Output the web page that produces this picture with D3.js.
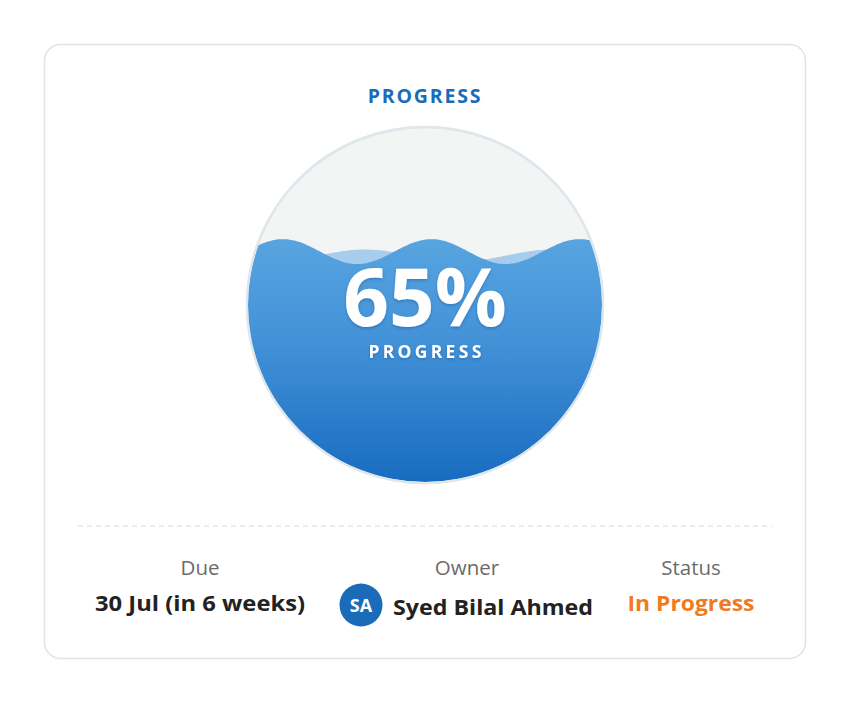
<!DOCTYPE html>
<html>
<head>
<meta charset="utf-8">
<script src="https://cdn.jsdelivr.net/npm/d3@7/dist/d3.min.js"></script>
<style>
  html, body { margin: 0; padding: 0; background: #ffffff; }
  svg { display: block; }
</style>
</head>
<body>
<svg id="chart" width="850" height="703"></svg>
<script>
// ---- data ----
const title = "PROGRESS";
const progressValue = 65;          // percent
const progressLabel = "PROGRESS";
const fieldLabels = ["Due", "Owner", "Status"];
const fieldValues = ["30 Jul (in 6 weeks)", "Syed Bilal Ahmed", "In Progress"];
const ownerInitials = "SA";
const waveCount = [2.4, 1.9];      // waves across circle (front, back)
const waveAmplitude = [0.035, 0.017]; // fraction of diameter
const wavePhase = [0.243, 0.63];   // offset fraction of wavelength

const FONT = "'Open Sans', 'Noto Sans', sans-serif";
const svg = d3.select("#chart");

// card
svg.append("rect")
  .attr("x", 44.5).attr("y", 44.5).attr("width", 761).attr("height", 614)
  .attr("rx", 16).attr("fill", "#fff").attr("stroke", "#e2e2e2").attr("stroke-width", 1.5);

// title
svg.append("text")
  .attr("x", 425).attr("y", 103).attr("text-anchor", "middle")
  .attr("font-family", FONT).attr("font-weight", 700).attr("font-size", 19.5)
  .attr("letter-spacing", 1.8).attr("fill", "#1a6bb8").text(title);

// gauge
const cx = 425, cy = 305, R = 178;
const defs = svg.append("defs");
const grad = defs.append("linearGradient").attr("id", "fillGrad")
  .attr("gradientUnits", "userSpaceOnUse")
  .attr("x1", 0).attr("y1", cy - R).attr("x2", 0).attr("y2", cy + R);
grad.append("stop").attr("offset", "0.3").attr("stop-color", "#58a5e0");
grad.append("stop").attr("offset", "0.6").attr("stop-color", "#4392d8");
grad.append("stop").attr("offset", "1").attr("stop-color", "#186bbf");

defs.append("clipPath").attr("id", "circClip")
  .append("circle").attr("cx", cx).attr("cy", cy).attr("r", R - 1);

const shadow = defs.append("filter").attr("id", "txtShadow")
  .attr("x", "-20%").attr("y", "-20%").attr("width", "140%").attr("height", "140%");
shadow.append("feDropShadow").attr("dx", 0).attr("dy", 1.5).attr("stdDeviation", 1.5)
  .attr("flood-color", "#0a3c78").attr("flood-opacity", 0.35);

svg.append("circle").attr("cx", cx).attr("cy", cy).attr("r", R)
  .attr("fill", "#f3f4f4").attr("stroke", "#dfe3e5").attr("stroke-width", 2.5);

// level scale: 0% -> bottom, 100% -> top
const levelY = d3.scaleLinear().domain([0, 100]).range([cy + R, cy - R]);
const xPos = d3.scaleLinear().domain([0, 1]).range([cx - R, cx + R]);
const meanY = levelY(progressValue);

function wavePoints(k) {
  const pts = d3.range(0, 1.0001, 1 / 200);
  return pts.map(t => [t, Math.cos(2 * Math.PI * (t * waveCount[k] - wavePhase[k]))]);
}
function waveArea(k, offset) {
  return d3.area()
    .x(d => xPos(d[0]))
    .y0(cy + R + 5)
    .y1(d => meanY + offset - d[1] * waveAmplitude[k] * 2 * R)
    .curve(d3.curveBasis)(wavePoints(k));
}
const g = svg.append("g").attr("clip-path", "url(#circClip)");
g.append("path").attr("d", waveArea(1, 4)).attr("fill", "#a8cdec");
g.append("path").attr("d", waveArea(0, 0)).attr("fill", "url(#fillGrad)");

// rim
svg.append("circle").attr("cx", cx).attr("cy", cy).attr("r", R)
  .attr("fill", "none").attr("stroke", "#dfe7ee").attr("stroke-width", 2);

// value text
svg.append("text")
  .attr("x", cx).attr("y", 326).attr("text-anchor", "middle")
  .attr("font-family", FONT).attr("font-weight", 700).attr("font-size", 80)
  .attr("fill", "#fff").attr("filter", "url(#txtShadow)")
  .text(progressValue + "%");
svg.append("text")
  .attr("x", cx + 1.5).attr("y", 358).attr("text-anchor", "middle")
  .attr("font-family", FONT).attr("font-weight", 700).attr("font-size", 17.5)
  .attr("letter-spacing", 3.3).attr("fill", "#fff").attr("filter", "url(#txtShadow)")
  .text(progressLabel);

// divider
svg.append("line").attr("x1", 78).attr("x2", 772).attr("y1", 526).attr("y2", 526)
  .attr("stroke", "#d9d9d9").attr("stroke-width", 1).attr("stroke-dasharray", "5,4");

// footer columns
const colX = d3.scaleOrdinal().domain(fieldLabels).range([200, 467, 691]);
svg.selectAll("text.lbl").data(fieldLabels).join("text").attr("class", "lbl")
  .attr("x", d => colX(d)).attr("y", 575).attr("text-anchor", "middle")
  .attr("font-family", FONT).attr("font-weight", 400).attr("font-size", 20.5)
  .attr("fill", "#6b6b6b").text(d => d);

// Due value
svg.append("text").attr("x", colX(fieldLabels[0])).attr("y", 611).attr("text-anchor", "middle")
  .attr("font-family", FONT).attr("font-weight", 700).attr("font-size", 21)
  .attr("textLength", 210).attr("lengthAdjust", "spacingAndGlyphs")
  .attr("fill", "#222").text(fieldValues[0]);

// Owner avatar + name
svg.append("circle").attr("cx", 361).attr("cy", 605).attr("r", 21.5).attr("fill", "#1a6bb8");
svg.append("text").attr("x", 361).attr("y", 611.5).attr("text-anchor", "middle")
  .attr("font-family", FONT).attr("font-weight", 700).attr("font-size", 18)
  .attr("fill", "#fff").text(ownerInitials);
svg.append("text").attr("x", 393).attr("y", 615).attr("text-anchor", "start")
  .attr("font-family", FONT).attr("font-weight", 700).attr("font-size", 22)
  .attr("textLength", 200).attr("lengthAdjust", "spacingAndGlyphs")
  .attr("fill", "#222").text(fieldValues[1]);

// Status
svg.append("text").attr("x", colX(fieldLabels[2])).attr("y", 611).attr("text-anchor", "middle")
  .attr("font-family", FONT).attr("font-weight", 700).attr("font-size", 21.5)
  .attr("textLength", 127).attr("lengthAdjust", "spacingAndGlyphs")
  .attr("fill", "#f07a22").text(fieldValues[2]);
</script>
</body>
</html>
